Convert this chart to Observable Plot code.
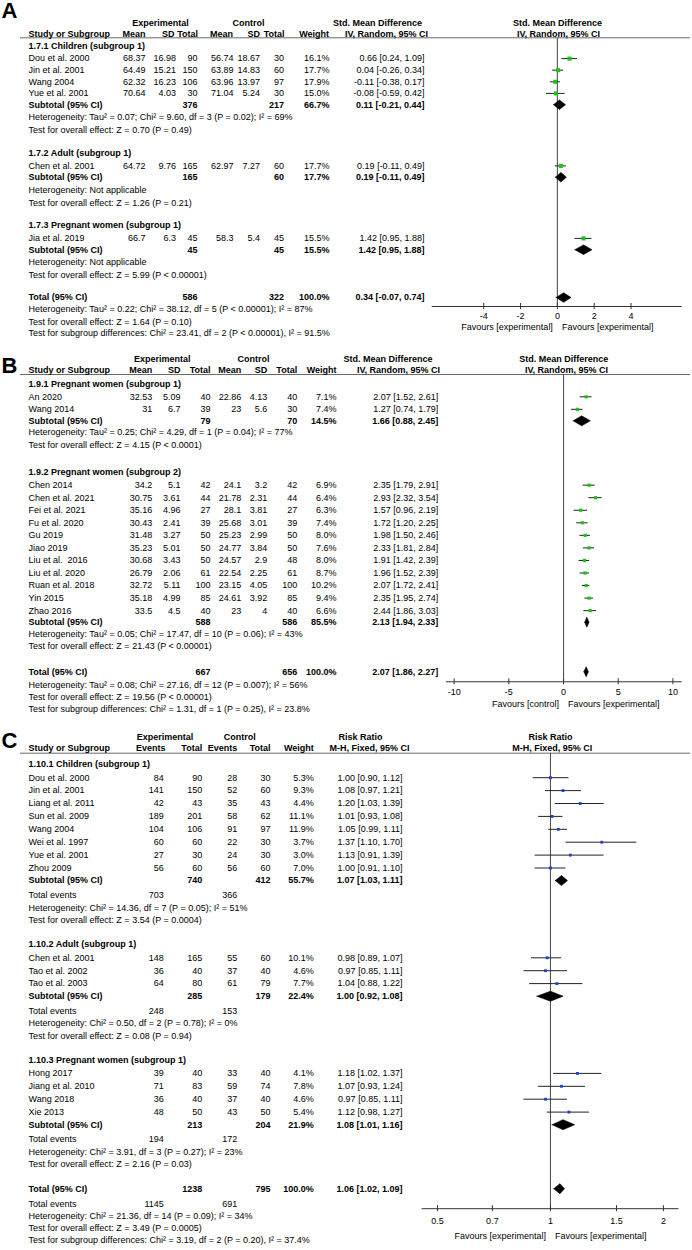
<!DOCTYPE html>
<html>
<head>
<meta charset="utf-8">
<script src="https://cdn.jsdelivr.net/npm/d3@7"></script>
<script src="https://cdn.jsdelivr.net/npm/@observablehq/plot@0.6"></script>
<style>
  html, body { margin: 0; padding: 0; background: #fff; }
  #chart svg { display: block; }
</style>
</head>
<body>
<div id="chart"></div>
<script>
// ---------------- DATA ----------------
// Panel A: Std. Mean Difference, IV, Random
const studiesA = [
  {group: "1.7.1", name: "Dou et al. 2000", eMean: 68.37, eSD: 16.98, eTot: 90, cMean: 56.74, cSD: 18.67, cTot: 30, w: 16.1, est: 0.66, lo: 0.24, hi: 1.09},
  {group: "1.7.1", name: "Jin et al. 2001", eMean: 64.49, eSD: 15.21, eTot: 150, cMean: 63.89, cSD: 14.83, cTot: 60, w: 17.7, est: 0.04, lo: -0.26, hi: 0.34},
  {group: "1.7.1", name: "Wang 2004", eMean: 62.32, eSD: 16.23, eTot: 106, cMean: 63.96, cSD: 13.97, cTot: 97, w: 17.9, est: -0.11, lo: -0.38, hi: 0.17},
  {group: "1.7.1", name: "Yue et al. 2001", eMean: 70.64, eSD: 4.03, eTot: 30, cMean: 71.04, cSD: 5.24, cTot: 30, w: 15.0, est: -0.08, lo: -0.59, hi: 0.42},
  {group: "1.7.2", name: "Chen et al. 2001", eMean: 64.72, eSD: 9.76, eTot: 165, cMean: 62.97, cSD: 7.27, cTot: 60, w: 17.7, est: 0.19, lo: -0.11, hi: 0.49},
  {group: "1.7.3", name: "Jia et al. 2019", eMean: 66.7, eSD: 6.3, eTot: 45, cMean: 58.3, cSD: 5.4, cTot: 45, w: 15.5, est: 1.42, lo: 0.95, hi: 1.88}
];
const groupsA = [
  {id: "1.7.1", label: "1.7.1 Children (subgroup 1)", eTot: 376, cTot: 217, w: 66.7, est: 0.11, lo: -0.21, hi: 0.44,
   het: "Heterogeneity: Tau² = 0.07; Chi² = 9.60, df = 3 (P = 0.02); I² = 69%", test: "Test for overall effect: Z = 0.70 (P = 0.49)"},
  {id: "1.7.2", label: "1.7.2 Adult (subgroup 1)", eTot: 165, cTot: 60, w: 17.7, est: 0.19, lo: -0.11, hi: 0.49,
   het: "Heterogeneity: Not applicable", test: "Test for overall effect: Z = 1.26 (P = 0.21)"},
  {id: "1.7.3", label: "1.7.3 Pregnant women (subgroup 1)", eTot: 45, cTot: 45, w: 15.5, est: 1.42, lo: 0.95, hi: 1.88,
   het: "Heterogeneity: Not applicable", test: "Test for overall effect: Z = 5.99 (P < 0.00001)"}
];
const totalA = {eTot: 586, cTot: 322, w: 100.0, est: 0.34, lo: -0.07, hi: 0.74,
  het: "Heterogeneity: Tau² = 0.22; Chi² = 38.12, df = 5 (P < 0.00001); I² = 87%",
  test: "Test for overall effect: Z = 1.64 (P = 0.10)",
  sg: "Test for subgroup differences: Chi² = 23.41, df = 2 (P < 0.00001), I² = 91.5%"};
const ticksA = [-4, -2, 0, 2, 4];
const favoursA = ["Favours [experimental]", "Favours [experimental]"];
const headTopA = ["Experimental", "Control", "Std. Mean Difference", "Std. Mean Difference"];
const headColsA = ["Study or Subgroup", "Mean", "SD", "Total", "Mean", "SD", "Total", "Weight", "IV, Random, 95% CI", "IV, Random, 95% CI"];

// Panel B: Std. Mean Difference, IV, Random
const studiesB = [
  {group: "1.9.1", name: "An 2020", eMean: 32.53, eSD: 5.09, eTot: 40, cMean: 22.86, cSD: 4.13, cTot: 40, w: 7.1, est: 2.07, lo: 1.52, hi: 2.61},
  {group: "1.9.1", name: "Wang 2014", eMean: 31, eSD: 6.7, eTot: 39, cMean: 23, cSD: 5.6, cTot: 30, w: 7.4, est: 1.27, lo: 0.74, hi: 1.79},
  {group: "1.9.2", name: "Chen 2014", eMean: 34.2, eSD: 5.1, eTot: 42, cMean: 24.1, cSD: 3.2, cTot: 42, w: 6.9, est: 2.35, lo: 1.79, hi: 2.91},
  {group: "1.9.2", name: "Chen et al. 2021", eMean: 30.75, eSD: 3.61, eTot: 44, cMean: 21.78, cSD: 2.31, cTot: 44, w: 6.4, est: 2.93, lo: 2.32, hi: 3.54},
  {group: "1.9.2", name: "Fei et al. 2021", eMean: 35.16, eSD: 4.96, eTot: 27, cMean: 28.1, cSD: 3.81, cTot: 27, w: 6.3, est: 1.57, lo: 0.96, hi: 2.19},
  {group: "1.9.2", name: "Fu et al. 2020", eMean: 30.43, eSD: 2.41, eTot: 39, cMean: 25.68, cSD: 3.01, cTot: 39, w: 7.4, est: 1.72, lo: 1.20, hi: 2.25},
  {group: "1.9.2", name: "Gu 2019", eMean: 31.48, eSD: 3.27, eTot: 50, cMean: 25.23, cSD: 2.99, cTot: 50, w: 8.0, est: 1.98, lo: 1.50, hi: 2.46},
  {group: "1.9.2", name: "Jiao 2019", eMean: 35.23, eSD: 5.01, eTot: 50, cMean: 24.77, cSD: 3.84, cTot: 50, w: 7.6, est: 2.33, lo: 1.81, hi: 2.84},
  {group: "1.9.2", name: "Liu et al.  2016", eMean: 30.68, eSD: 3.43, eTot: 50, cMean: 24.57, cSD: 2.9, cTot: 48, w: 8.0, est: 1.91, lo: 1.42, hi: 2.39},
  {group: "1.9.2", name: "Liu et al. 2020", eMean: 26.79, eSD: 2.06, eTot: 61, cMean: 22.54, cSD: 2.25, cTot: 61, w: 8.7, est: 1.96, lo: 1.52, hi: 2.39},
  {group: "1.9.2", name: "Ruan et al. 2018", eMean: 32.72, eSD: 5.11, eTot: 100, cMean: 23.15, cSD: 4.05, cTot: 100, w: 10.2, est: 2.07, lo: 1.72, hi: 2.41},
  {group: "1.9.2", name: "Yin 2015", eMean: 35.18, eSD: 4.99, eTot: 85, cMean: 24.61, cSD: 3.92, cTot: 85, w: 9.4, est: 2.35, lo: 1.95, hi: 2.74},
  {group: "1.9.2", name: "Zhao 2016", eMean: 33.5, eSD: 4.5, eTot: 40, cMean: 23, cSD: 4, cTot: 40, w: 6.6, est: 2.44, lo: 1.86, hi: 3.03}
];
const groupsB = [
  {id: "1.9.1", label: "1.9.1 Pregnant women (subgroup 1)", eTot: 79, cTot: 70, w: 14.5, est: 1.66, lo: 0.88, hi: 2.45,
   het: "Heterogeneity: Tau² = 0.25; Chi² = 4.29, df = 1 (P = 0.04); I² = 77%", test: "Test for overall effect: Z = 4.15 (P < 0.0001)"},
  {id: "1.9.2", label: "1.9.2 Pregnant women (subgroup 2)", eTot: 588, cTot: 586, w: 85.5, est: 2.13, lo: 1.94, hi: 2.33,
   het: "Heterogeneity: Tau² = 0.05; Chi² = 17.47, df = 10 (P = 0.06); I² = 43%", test: "Test for overall effect: Z = 21.43 (P < 0.00001)"}
];
const totalB = {eTot: 667, cTot: 656, w: 100.0, est: 2.07, lo: 1.86, hi: 2.27,
  het: "Heterogeneity: Tau² = 0.08; Chi² = 27.16, df = 12 (P = 0.007); I² = 56%",
  test: "Test for overall effect: Z = 19.56 (P < 0.00001)",
  sg: "Test for subgroup differences: Chi² = 1.31, df = 1 (P = 0.25), I² = 23.8%"};
const ticksB = [-10, -5, 0, 5, 10];
const favoursB = ["Favours [control]", "Favours [experimental]"];
const headTopB = headTopA;
const headColsB = headColsA;

// Panel C: Risk Ratio, M-H, Fixed
const studiesC = [
  {group: "1.10.1", name: "Dou et al. 2000", eEv: 84, eTot: 90, cEv: 28, cTot: 30, w: 5.3, est: 1.00, lo: 0.90, hi: 1.12},
  {group: "1.10.1", name: "Jin et al. 2001", eEv: 141, eTot: 150, cEv: 52, cTot: 60, w: 9.3, est: 1.08, lo: 0.97, hi: 1.21},
  {group: "1.10.1", name: "Liang et al. 2011", eEv: 42, eTot: 43, cEv: 35, cTot: 43, w: 4.4, est: 1.20, lo: 1.03, hi: 1.39},
  {group: "1.10.1", name: "Sun et al. 2009", eEv: 189, eTot: 201, cEv: 58, cTot: 62, w: 11.1, est: 1.01, lo: 0.93, hi: 1.08},
  {group: "1.10.1", name: "Wang 2004", eEv: 104, eTot: 106, cEv: 91, cTot: 97, w: 11.9, est: 1.05, lo: 0.99, hi: 1.11},
  {group: "1.10.1", name: "Wei et al. 1997", eEv: 60, eTot: 60, cEv: 22, cTot: 30, w: 3.7, est: 1.37, lo: 1.10, hi: 1.70},
  {group: "1.10.1", name: "Yue et al. 2001", eEv: 27, eTot: 30, cEv: 24, cTot: 30, w: 3.0, est: 1.13, lo: 0.91, hi: 1.39},
  {group: "1.10.1", name: "Zhou 2009", eEv: 56, eTot: 60, cEv: 56, cTot: 60, w: 7.0, est: 1.00, lo: 0.91, hi: 1.10},
  {group: "1.10.2", name: "Chen et al. 2001", eEv: 148, eTot: 165, cEv: 55, cTot: 60, w: 10.1, est: 0.98, lo: 0.89, hi: 1.07},
  {group: "1.10.2", name: "Tao et al. 2002", eEv: 36, eTot: 40, cEv: 37, cTot: 40, w: 4.6, est: 0.97, lo: 0.85, hi: 1.11},
  {group: "1.10.2", name: "Tao et al. 2003", eEv: 64, eTot: 80, cEv: 61, cTot: 79, w: 7.7, est: 1.04, lo: 0.88, hi: 1.22},
  {group: "1.10.3", name: "Hong 2017", eEv: 39, eTot: 40, cEv: 33, cTot: 40, w: 4.1, est: 1.18, lo: 1.02, hi: 1.37},
  {group: "1.10.3", name: "Jiang et al. 2010", eEv: 71, eTot: 83, cEv: 59, cTot: 74, w: 7.8, est: 1.07, lo: 0.93, hi: 1.24},
  {group: "1.10.3", name: "Wang 2018", eEv: 36, eTot: 40, cEv: 37, cTot: 40, w: 4.6, est: 0.97, lo: 0.85, hi: 1.11},
  {group: "1.10.3", name: "Xie 2013", eEv: 48, eTot: 50, cEv: 43, cTot: 50, w: 5.4, est: 1.12, lo: 0.98, hi: 1.27}
];
const groupsC = [
  {id: "1.10.1", label: "1.10.1 Children (subgroup 1)", eTot: 740, cTot: 412, w: 55.7, est: 1.07, lo: 1.03, hi: 1.11, eEv: 703, cEv: 366,
   het: "Heterogeneity: Chi² = 14.36, df = 7 (P = 0.05); I² = 51%", test: "Test for overall effect: Z = 3.54 (P = 0.0004)"},
  {id: "1.10.2", label: "1.10.2 Adult (subgroup 1)", eTot: 285, cTot: 179, w: 22.4, est: 1.00, lo: 0.92, hi: 1.08, eEv: 248, cEv: 153,
   het: "Heterogeneity: Chi² = 0.50, df = 2 (P = 0.78); I² = 0%", test: "Test for overall effect: Z = 0.08 (P = 0.94)"},
  {id: "1.10.3", label: "1.10.3 Pregnant women (subgroup 1)", eTot: 213, cTot: 204, w: 21.9, est: 1.08, lo: 1.01, hi: 1.16, eEv: 194, cEv: 172,
   het: "Heterogeneity: Chi² = 3.91, df = 3 (P = 0.27); I² = 23%", test: "Test for overall effect: Z = 2.16 (P = 0.03)"}
];
const totalC = {eTot: 1238, cTot: 795, w: 100.0, est: 1.06, lo: 1.02, hi: 1.09, eEv: 1145, cEv: 691,
  het: "Heterogeneity: Chi² = 21.36, df = 14 (P = 0.09); I² = 34%",
  test: "Test for overall effect: Z = 3.49 (P = 0.0005)",
  sg: "Test for subgroup differences: Chi² = 3.19, df = 2 (P = 0.20), I² = 37.4%"};
const ticksC = [0.5, 0.7, 1, 1.5, 2];
const favoursC = ["Favours [experimental]", "Favours [experimental]"];
const headTopC = ["Experimental", "Control", "Risk Ratio", "Risk Ratio"];
const headColsC = ["Study or Subgroup", "Events", "Total", "Events", "Total", "Weight", "M-H, Fixed, 95% CI", "M-H, Fixed, 95% CI"];

const rowLabels = {sub: "Subtotal (95% CI)", total: "Total (95% CI)", events: "Total events"};

// ---------------- LAYOUT ----------------
const ML = 20;
const FONT = "'Liberation Sans', Arial, Helvetica, sans-serif";

const layoutA = {
  letter: "A", top: 0, height: 345, letterY: 10.5, h1Y: 22.7, h2Y: 34, lineY: 37.3, firstHead: 45.3,
  gaps: {studyAfterHead: 12.8, pitch: 11.6, subAfterStudy: 11.3, eventsAfterSub: 0, hetAfter: 12.9, testAfterHet: 12.7,
         headAfterTest: 22.8, totalAfterTest: 22.2, eventsAfterTotal: 0, hetAfterTotal: 12, testAfterHet2: 12.5, sgAfterTest: 11.5},
  axisOff: 9, tickOff: 10, favOff: 21,
  x: {type: "linear", domain: [-6.8, 6.78], range: [431.7, 681.7]}, zero: 0,
  r: 2.3, half: 4.8, color: "#17c317",
  valueKeys: ["eMean", "eSD", "eTot", "cMean", "cSD", "cTot"],
  cols: {name: 28, eMean: 145, eSD: 175.5, eTot: 197, cMean: 233, cSD: 259.5, cTot: 283.5, w: 329, ci: 424},
  top1: [[160, "middle"], [248, "middle"], [377, "middle"], [557, "middle"]],
  top2: [[28, "start"], [145, "end"], [174, "end"], [197.5, "end"], [232.5, "end"], [259.5, "end"], [284, "end"], [328.5, "end"], [386, "middle"], [558, "middle"]]
};
const layoutB = {
  letter: "B", top: 345, height: 380, letterY: 365, h1Y: 358.3, h2Y: 370, lineY: 374, firstHead: 383.3,
  gaps: {studyAfterHead: 13, pitch: 12.55, subAfterStudy: 11.5, eventsAfterSub: 0, hetAfter: 11.5, testAfterHet: 12.6,
         headAfterTest: 27.2, totalAfterTest: 25.5, eventsAfterTotal: 0, hetAfterTotal: 13.5, testAfterHet2: 11.8, sgAfterTest: 12.5},
  axisOff: 10, tickOff: 10, favOff: 22,
  x: {type: "linear", domain: [-10.7, 10.85], range: [446, 681.7]}, zero: 0,
  r: 1.8, half: 5, color: "#17c317",
  valueKeys: ["eMean", "eSD", "eTot", "cMean", "cSD", "cTot"],
  cols: {name: 28, eMean: 151.7, eSD: 180, eTot: 210, cMean: 240.7, cSD: 266.7, cTot: 296.7, w: 336, ci: 437.7},
  top1: [[161.7, "middle"], [253, "middle"], [387.5, "middle"], [563.3, "middle"]],
  top2: [[28, "start"], [151.7, "end"], [180, "end"], [210, "end"], [240.7, "end"], [266.7, "end"], [296.7, "end"], [336, "end"], [398, "middle"], [566, "middle"]]
};
const layoutC = {
  letter: "C", top: 725, height: 525, letterY: 740, h1Y: 736.7, h2Y: 747.8, lineY: 752.7, firstHead: 764,
  gaps: {studyAfterHead: 13.2, pitch: 12.9, subAfterStudy: 12.6, eventsAfterSub: 14.5, hetAfter: 12.6, testAfterHet: 12.6,
         headAfterTest: 24.3, totalAfterTest: 24.3, eventsAfterTotal: 15, hetAfterTotal: 12.3, testAfterHet2: 12, sgAfterTest: 12.4},
  axisOff: 20, tickOff: 12.5, favOff: 27,
  x: {type: "log", domain: [0.455, 2.2], range: [421.7, 678.4]}, zero: 1,
  r: 1.6, half: 5, color: "#1f3fd0",
  valueKeys: ["eEv", "eTot", "cEv", "cTot"],
  cols: {name: 28, eEv: 163.3, eTot: 201.7, cEv: 236.7, cTot: 270, w: 313.3, ci: 402},
  top1: [[164.5, "middle"], [239.3, "middle"], [360, "middle"], [550, "middle"]],
  top2: [[28, "start"], [165, "end"], [201.7, "end"], [236.7, "end"], [270, "end"], [313.3, "end"], [369, "middle"], [551.7, "middle"]]
};

const f2 = v => v.toFixed(2);
const ciText = d => `${f2(d.est)} [${f2(d.lo)}, ${f2(d.hi)}]`;
const wText = d => d.w.toFixed(1) + "%";

function layoutRows(groups, studies, total, L) {
  const g = L.gaps;
  const R = {heads: [], studies: [], subs: [], events: [], notes: [], total: null};
  let y = L.firstHead;
  groups.forEach((grp, gi) => {
    if (gi > 0) y += g.headAfterTest;
    R.heads.push({y, text: grp.label});
    studies.filter(s => s.group === grp.id).forEach((s, i) => {
      y += i === 0 ? g.studyAfterHead : g.pitch;
      R.studies.push({...s, y});
    });
    y += g.subAfterStudy;
    R.subs.push({...grp, y});
    if (grp.eEv != null) { y += g.eventsAfterSub; R.events.push({y, eEv: grp.eEv, cEv: grp.cEv}); }
    y += g.hetAfter; R.notes.push({y, text: grp.het});
    y += g.testAfterHet; R.notes.push({y, text: grp.test});
  });
  y += g.totalAfterTest;
  R.total = {...total, id: "total", y};
  if (total.eEv != null) { y += g.eventsAfterTotal; R.events.push({y, eEv: total.eEv, cEv: total.cEv}); }
  y += g.hetAfterTotal; R.notes.push({y, text: total.het});
  y += g.testAfterHet2; R.notes.push({y, text: total.test});
  y += g.sgAfterTest; R.notes.push({y, text: total.sg});
  return R;
}

function textMarks(cells) {
  return d3.groups(cells, c => `${c.pos}|${c.anchor}|${c.bold ? 1 : 0}|${c.size || 9}`).map(([, arr]) =>
    Plot.text(arr, {
      y: "y", text: "text", frameAnchor: "left", dx: arr[0].pos - ML,
      textAnchor: arr[0].anchor, fontWeight: arr[0].bold ? "bold" : "normal",
      fontSize: arr[0].size || 9, fill: "#000"
    }));
}

function panel(groups, studies, total, ticks, favours, headTop, headCols, L) {
  const R = layoutRows(groups, studies, total, L);
  const C = L.cols;
  const cells = [];
  const add = (text, y, pos, anchor, bold, size) => cells.push({text: String(text), y, pos, anchor, bold, size});

  cells.push({text: L.letter, y: L.letterY, pos: 1, anchor: "start", bold: true, size: 22});
  headTop.forEach((t, i) => add(t, L.h1Y, L.top1[i][0], L.top1[i][1], true));
  headCols.forEach((t, i) => add(t, L.h2Y, L.top2[i][0], L.top2[i][1], true));
  R.heads.forEach(r => add(r.text, r.y, C.name, "start", true));
  R.studies.forEach(r => {
    add(r.name, r.y, C.name, "start", false);
    L.valueKeys.forEach(k => add(r[k], r.y, C[k], "end", false));
    add(wText(r), r.y, C.w, "end", false);
    add(ciText(r), r.y, C.ci, "end", false);
  });
  [...R.subs.map(r => [r, rowLabels.sub]), [R.total, rowLabels.total]].forEach(([r, lab]) => {
    add(lab, r.y, C.name, "start", true);
    add(r.eTot, r.y, C.eTot, "end", true);
    add(r.cTot, r.y, C.cTot, "end", true);
    add(wText(r), r.y, C.w, "end", true);
    add(ciText(r), r.y, C.ci, "end", true);
  });
  R.events.forEach(r => {
    add(rowLabels.events, r.y, C.name, "start", false);
    add(r.eEv, r.y, C.eEv, "end", false);
    add(r.cEv, r.y, C.cEv, "end", false);
  });
  R.notes.forEach(r => add(r.text, r.y, C.name, "start", false));

  const axisY = R.total.y + L.axisOff;
  const h = L.half;
  const diamonds = [...R.subs, R.total].flatMap(d => [
    {id: d.id, x: d.lo, y: d.y}, {id: d.id, x: d.est, y: d.y - h},
    {id: d.id, x: d.hi, y: d.y}, {id: d.id, x: d.est, y: d.y + h},
    {id: d.id, x: d.lo, y: d.y}
  ]);

  return Plot.plot({
    width: 692, height: L.height,
    marginLeft: ML, marginRight: 2, marginTop: 0, marginBottom: 0,
    x: {...L.x, axis: null},
    y: {type: "linear", domain: [L.top, L.top + L.height], range: [0, L.height], axis: null},
    style: {fontFamily: FONT, fontSize: "9px", background: "#fff", color: "#000", overflow: "visible"},
    marks: [
      Plot.ruleY([L.lineY], {stroke: "#6a6a6a", strokeWidth: 1}),
      Plot.ruleX([L.zero], {y1: L.lineY, y2: axisY, stroke: "#555", strokeWidth: 1.1}),
      Plot.ruleY([axisY], {x1: L.x.domain[0], x2: L.x.domain[1], stroke: "#333", strokeWidth: 1}),
      Plot.ruleX(ticks, {x: d => d, y1: axisY - 3, y2: axisY + 3, stroke: "#333", strokeWidth: 1}),
      Plot.text(ticks, {x: d => d, y: axisY + L.tickOff, text: d => String(d), fontSize: 9, fill: "#000"}),
      Plot.text([favours[0]], {x: L.zero, y: axisY + L.favOff, text: d => d, dx: -4.5, textAnchor: "end", fontSize: 9, fill: "#000"}),
      Plot.text([favours[1]], {x: L.zero, y: axisY + L.favOff, text: d => d, dx: 4.5, textAnchor: "start", fontSize: 9, fill: "#000"}),
      Plot.ruleY(R.studies, {x1: "lo", x2: "hi", y: "y", stroke: "#222", strokeWidth: 1}),
      Plot.dot(R.studies, {x: "est", y: "y", symbol: "square", r: L.r, fill: L.color, stroke: "none"}),
      Plot.line(diamonds, {x: "x", y: "y", z: "id", fill: "#000", stroke: "#000", strokeWidth: 0.6}),
      ...textMarks(cells)
    ]
  });
}

const root = document.getElementById("chart");
root.append(panel(groupsA, studiesA, totalA, ticksA, favoursA, headTopA, headColsA, layoutA));
root.append(panel(groupsB, studiesB, totalB, ticksB, favoursB, headTopB, headColsB, layoutB));
root.append(panel(groupsC, studiesC, totalC, ticksC, favoursC, headTopC, headColsC, layoutC));
</script>
</body>
</html>
